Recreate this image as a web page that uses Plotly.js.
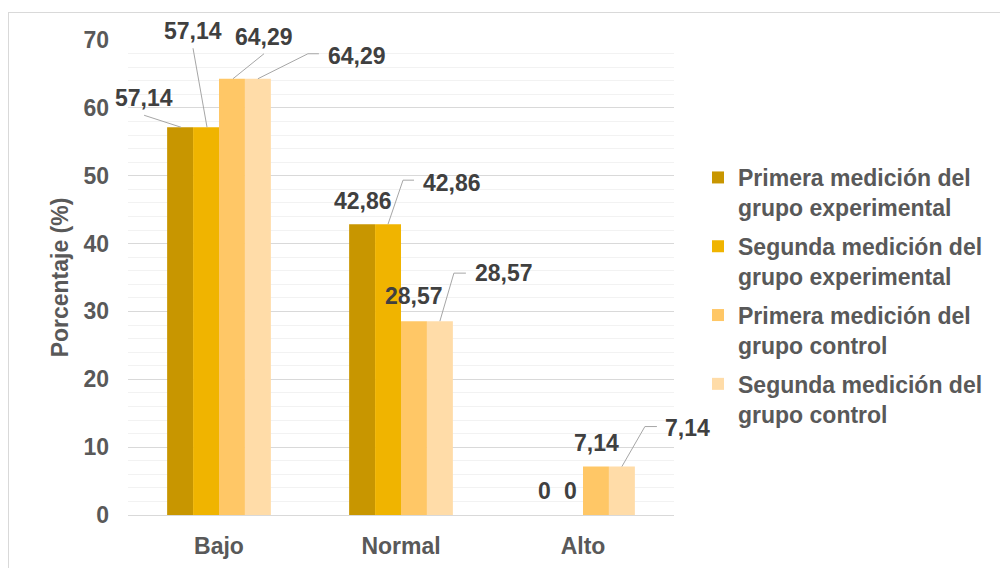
<!DOCTYPE html>
<html>
<head>
<meta charset="utf-8">
<script src="https://cdn.plot.ly/plotly-3.0.1.min.js"></script>
<style>
  html, body { margin: 0; padding: 0; background: #fff; }
  #wrap { position: relative; width: 1000px; height: 568px; overflow: hidden; }
  #chart { width: 1000px; height: 568px; }
  #frame { position: absolute; left: 8px; top: 12px; width: 1100px; height: 700px; border: 1px solid #d9d9d9; pointer-events: none; }
</style>
</head>
<body>
<div id="wrap"><div id="chart"></div><div id="frame"></div></div>
<script>
// ---- data ----
const categories = ['Bajo', 'Normal', 'Alto'];
const seriesNames = [
  'Primera medición del<br>grupo experimental',
  'Segunda medición del<br>grupo experimental',
  'Primera medición del<br>grupo control',
  'Segunda medición del<br>grupo control'
];
const primeraExperimental = [57.14, 42.86, 0];
const segundaExperimental = [57.14, 42.86, 0];
const primeraControl = [64.29, 28.57, 7.14];
const segundaControl = [64.29, 28.57, 7.14];
const yTicks = [0, 10, 20, 30, 40, 50, 60, 70];

// ---- style ----
const seriesValues = [primeraExperimental, segundaExperimental, primeraControl, segundaControl];
const colors = ['#C89600', '#F0B400', '#FFC766', '#FFDCA8'];
const FONT = 'Liberation Sans, Arial, sans-serif';
const FS = 23;
const bargap = 0.43;
const barW = (1 - bargap) / seriesValues.length;

// label offsets in px [dx, dyUp] per series per category
const labelOffsets = [
  [[-36, 29], [1, 23], [0, 24]],
  [[-13, 96], [64, 41], [0, 24]],
  [[32, 42], [0, 25], [1, 24]],
  [[99, 23], [64, 48], [66, 39]]
];
// leader line paths in px relative to bar top (y up)
const leaderPaths = [
  ['M 1 0 L -36 12', null, null],
  ['M 1 0 L -13 79', 'M 0 0 L 15 44 L 26 44', null],
  ['M 1 0 L 32 25', null, null],
  ['M 0 0 L 50 25 L 61 25', 'M 0 0 L 14 48 L 26 48', 'M 0 0 L 23 40 L 35 40']
];

function fmt(v) { return v === 0 ? '0' : v.toFixed(2).replace('.', ','); }

const traces = seriesValues.map((vals, i) => ({
  type: 'bar',
  x: categories,
  y: vals,
  name: seriesNames[i],
  legendgroup: 'g' + i,
  marker: { color: colors[i] },
  hoverinfo: 'skip'
}));

const annotations = [];
const shapes = [];
seriesValues.forEach((vals, si) => {
  vals.forEach((v, ci) => {
    const xc = ci + (si - (seriesValues.length - 1) / 2) * barW;
    const off = labelOffsets[si][ci];
    annotations.push({
      x: xc, y: v, xref: 'x', yref: 'y',
      text: fmt(v), showarrow: false,
      xanchor: 'center', yanchor: 'middle',
      xshift: off[0], yshift: off[1],
      font: { family: FONT, size: FS, color: '#404040', weight: 700 }
    });
    const p = leaderPaths[si][ci];
    if (p) {
      shapes.push({
        type: 'path', xref: 'x', yref: 'y',
        xsizemode: 'pixel', ysizemode: 'pixel',
        xanchor: xc, yanchor: v, path: p,
        line: { color: '#A6A6A6', width: 1 }
      });
    }
  });
});

const layout = {
  width: 1000, height: 568,
  margin: { l: 128, r: 326, t: 40, b: 53 },
  paper_bgcolor: '#fff', plot_bgcolor: '#fff',
  barmode: 'group', bargap: bargap, bargroupgap: 0,
  font: { family: FONT, color: '#595959' },
  xaxis: {
    type: 'category',
    range: [-0.5, categories.length - 0.5],
    autorange: false,
    tickfont: { family: FONT, size: FS, color: '#595959', weight: 700 },
    ticklabelstandoff: 10,
    showline: true, linecolor: '#D9D9D9', linewidth: 1,
    ticks: '', showgrid: false, zeroline: false, fixedrange: true
  },
  yaxis: {
    range: [0, 70],
    autorange: false,
    tickvals: yTicks,
    ticktext: yTicks.map(String),
    tickfont: { family: FONT, size: FS, color: '#595959', weight: 700 },
    ticklabelstandoff: 18,
    showgrid: true, gridcolor: '#D9D9D9', gridwidth: 1,
    minor: { dtick: 2, showgrid: true, gridcolor: '#F2F2F2', gridwidth: 1 },
    zeroline: false, showline: false, ticks: '',
    title: { text: 'Porcentaje (%)', font: { family: FONT, size: FS, color: '#595959', weight: 700 }, standoff: 8 },
    fixedrange: true
  },
  legend: {
    x: (698 - 128) / 546, xanchor: 'left',
    y: (515 - 156) / 475, yanchor: 'top',
    traceorder: 'grouped', tracegroupgap: 6,
    valign: 'top',
    font: { family: FONT, size: FS, color: '#595959', weight: 700 },
    bgcolor: 'rgba(0,0,0,0)'
  },
  annotations: annotations,
  shapes: shapes
};

Plotly.newPlot('chart', traces, layout, { displayModeBar: false, staticPlot: true });
</script>
</body>
</html>
